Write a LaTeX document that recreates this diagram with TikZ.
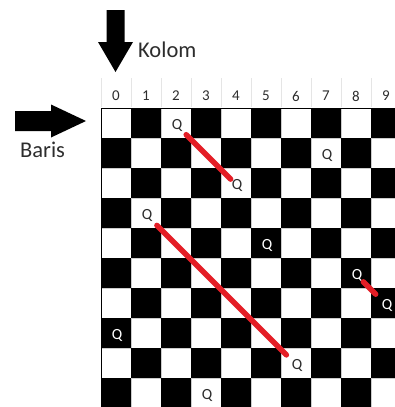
\documentclass[tikz,border=0pt]{standalone}
\usepackage{fontspec}
\setmainfont{Carlito}
\usetikzlibrary{positioning}
\definecolor{hitred}{RGB}{228,30,38}
\definecolor{inkgray}{RGB}{45,45,45}

\begin{document}
\begin{tikzpicture}[x=1pt, y=-1pt,
    cell/.style={rectangle, minimum size=30pt, inner sep=0pt, outer sep=0pt},
    light/.style={cell, fill=white, draw=gray!40, line width=0.5pt},
    dark/.style={cell, fill=black},
    queen/.style={font=\fontsize{15.5}{15.5}\selectfont, inner sep=0.5pt},
    num/.style={font=\fontsize{15}{15}\selectfont, text=inkgray},
    sidetext/.style={font=\fontsize{22.5}{22.5}\selectfont, text=inkgray, inner sep=0pt, anchor=west},
    hit/.style={hitred, line width=5.5pt, line cap=round}
]
    \useasboundingbox (0,0) rectangle (395,407);
    \clip (0,0) rectangle (395,407);

    % header row
    \foreach \c in {0,...,10}
        \draw[gray!20] (101+30*\c,78) -- (101+30*\c,107);
    \foreach \c in {0,...,9}
        \node[num] (h-\c) at (116+30*\c,96) {\c};

    % board
    \foreach \r in {0,...,9} {
        \foreach \c in {0,...,9} {
            \pgfmathtruncatemacro\p{mod(\r+\c,2)}
            \ifnum\p=0
                \node[light] (c-\r-\c) at (116+30*\c,123+30*\r) {};
            \else
                \node[dark] (c-\r-\c) at (116+30*\c,123+30*\r) {};
            \fi
        }
    }
    \draw[line width=0.8pt] (c-0-0.north west) rectangle (c-9-9.south east);

    % queens
    \foreach \r/\c/\ink in {0/2/inkgray, 1/7/inkgray, 2/4/inkgray, 3/1/inkgray, 4/5/white,
                            5/8/white, 6/9/white, 7/0/white, 8/6/inkgray, 9/3/inkgray}
        \node[queen, text=\ink] (q\r) at ([shift={(1,2.5)}]c-\r-\c.center) {Q};

    % attacks
    \draw[hit, shorten <=13pt, shorten >=9pt] (q0.center) -- (q2.center);
    \draw[hit, shorten <=14pt, shorten >=15pt] (q3.center) -- (q8.center);
    \draw[hit, shorten <=9pt, shorten >=16pt] (q5.center) -- (q6.center);

    % column and row pointers
    \fill (106.5,10) -- (124.5,10) -- (124.5,42) -- (133,42) -- (115.5,72) -- (98,42) -- (106.5,42) -- cycle;
    \node[sidetext] (kolom) at (138,49.5) {Kolom};
    \fill (15,111) -- (51,111) -- (51,104.5) -- (86,121) -- (51,137.5) -- (51,131) -- (15,131) -- cycle;
    \node[sidetext] (baris) at (20,150) {Baris};
\end{tikzpicture}
\end{document}
